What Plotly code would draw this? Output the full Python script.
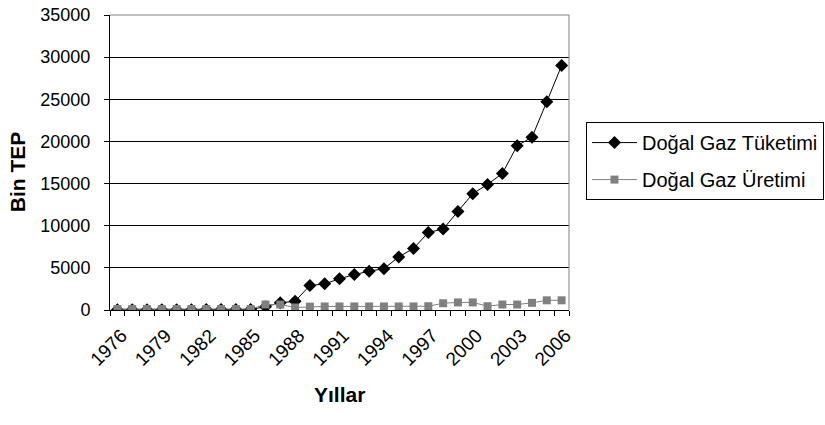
import plotly.graph_objects as go

years = list(range(1976, 2007))
tuketim = [20, 25, 30, 35, 40, 40, 45, 50, 55, 60, 400, 850, 1050,
           2900, 3100, 3700, 4200, 4600, 4900, 6300, 7300, 9200, 9600,
           11700, 13800, 14900, 16200, 19500, 20500, 24700, 29000]
uretim = [120, 120, 120, 120, 120, 120, 120, 120, 120, 120, 650, 650, 300,
          400, 420, 420, 420, 420, 420, 420, 420, 450, 800,
          900, 900, 450, 650, 650, 850, 1150, 1150]
tick_years = list(range(1976, 2007, 3))

FONT = "Liberation Sans, Arial, sans-serif"

fig = go.Figure()
fig.add_trace(go.Scatter(
    x=years, y=tuketim, name="Doğal Gaz Tüketimi", mode="lines+markers",
    legendgroup="a",
    line=dict(color="black", width=1),
    marker=dict(symbol="diamond", size=10, color="black")))
fig.add_trace(go.Scatter(
    x=years, y=uretim, name="Doğal Gaz Üretimi", mode="lines+markers",
    legendgroup="b",
    line=dict(color="#808080", width=1),
    marker=dict(symbol="square", size=8, color="#808080")))

fig.update_layout(
    width=825, height=425,
    margin=dict(l=110, r=256, t=15, b=115, autoexpand=False),
    paper_bgcolor="white", plot_bgcolor="white",
    font=dict(family=FONT, size=17, color="black"),
    showlegend=True,
    legend=dict(x=1.037, y=0.637, xanchor="left", yanchor="top",
                bordercolor="black", borderwidth=1, bgcolor="white",
                font=dict(size=20, family=FONT), tracegroupgap=8,
                itemwidth=45),
    xaxis=dict(range=[1975.5, 2006.5], tickmode="array", tickvals=tick_years,
               ticktext=[str(y) for y in tick_years], tickangle=-45,
               ticks="", showgrid=False, showline=True, linecolor="black",
               mirror=False, zeroline=False, automargin=False,
               ticklabelshift=4, ticklabelstandoff=6,
               tickfont=dict(size=19, family=FONT),
               minor=dict(ticks="outside", tick0=1975.5, dtick=1, ticklen=5,
                          tickcolor="black", showgrid=False)),
    yaxis=dict(range=[0, 35000], dtick=5000, tick0=0, ticks="outside",
               ticklen=5, tickcolor="black", showgrid=True, gridcolor="black",
               gridwidth=1, showline=True, linecolor="black", zeroline=False,
               tickformat="d", automargin=False, ticklabelstandoff=10,
               tickfont=dict(size=18, family=FONT)),
    shapes=[
        dict(type="line", xref="paper", yref="paper", x0=0, x1=1, y0=1, y1=1,
             line=dict(color="#808080", width=1)),
        dict(type="line", xref="paper", yref="paper", x0=1, x1=1, y0=0, y1=1,
             line=dict(color="#808080", width=1)),
    ],
    annotations=[
        dict(text="<b>Bin TEP</b>", xref="paper", yref="paper",
             x=-0.2, y=0.468, xanchor="center", yanchor="middle",
             textangle=-90, showarrow=False, font=dict(size=21, family=FONT)),
        dict(text="<b>Yıllar</b>", xref="paper", yref="paper",
             x=0.5, y=-0.288, xanchor="center", yanchor="middle",
             showarrow=False, font=dict(size=21, family=FONT)),
    ],
)

fig.write_html("out.html")
